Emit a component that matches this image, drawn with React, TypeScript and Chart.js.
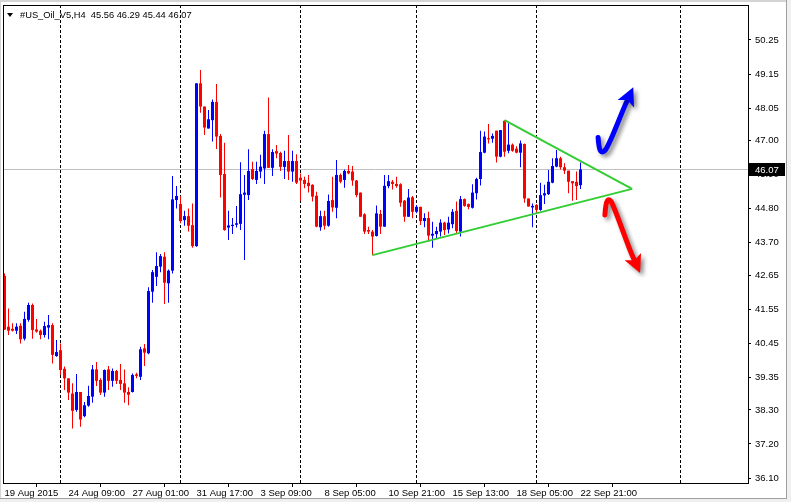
import React, { useEffect, useRef } from "react";
import { Chart, registerables } from "chart.js";

Chart.register(...registerables);

// ---- OHLC data (H4 bars, #US_Oil_V5) ----
const opens = [
  42.63, 40.99, 40.92, 40.86, 41.02, 40.60, 41.21, 41.69, 40.90, 40.86,
  40.72, 40.96, 41.04, 40.04, 40.23, 39.63, 39.32, 38.83, 38.30, 38.88,
  38.10, 38.44, 38.73, 39.61, 39.27, 38.86, 39.61, 39.24, 39.56, 39.27,
  39.16, 38.88, 38.88, 39.45, 39.37, 40.29, 40.13, 42.12, 42.60, 42.93,
  43.25, 42.39, 42.80, 45.08, 44.95, 44.43, 44.56, 44.27, 43.59, 48.85,
  48.10, 47.39, 47.66, 48.25, 47.15, 45.92, 44.19, 44.24, 44.28, 44.31,
  45.25, 45.24, 46.08, 45.73, 46.00, 46.10, 47.21, 46.12, 46.66, 46.60,
  46.15, 46.34, 46.00, 46.34, 45.80, 45.73, 45.64, 45.57, 45.22, 44.20,
  44.56, 44.25, 45.08, 44.83, 45.89, 45.73, 46.02, 46.00, 45.71, 45.32,
  44.62, 44.11, 44.06, 43.92, 44.63, 44.22, 45.53, 45.67, 45.60, 45.59,
  45.06, 44.54, 45.17, 44.70, 44.86, 44.40, 44.50, 43.93, 43.98, 44.06,
  44.35, 44.13, 44.30, 44.73, 44.06, 45.11, 44.95, 44.83, 45.30, 45.76,
  46.61, 47.08, 47.06, 47.32, 46.48, 47.64, 46.67, 46.87, 46.74, 46.61,
  46.89, 45.13, 44.84, 44.92, 44.76, 45.23, 45.27, 45.64, 46.16, 46.43,
  46.14, 46.03, 45.69, 45.67, 45.56,
];
const highs = [
  42.71, 41.58, 41.10, 41.10, 41.10, 41.47, 41.76, 41.74, 41.24, 40.90,
  41.15, 41.37, 41.10, 40.56, 40.45, 39.70, 39.32, 39.16, 39.46, 38.88,
  38.56, 39.08, 39.75, 39.85, 39.32, 39.61, 39.72, 39.64, 39.59, 39.78,
  39.61, 39.03, 39.48, 39.50, 40.34, 40.43, 42.26, 42.82, 43.39, 43.34,
  43.39, 42.84, 45.86, 45.53, 45.21, 44.73, 44.81, 44.97, 48.85, 49.28,
  48.10, 47.99, 48.33, 48.83, 47.21, 46.93, 44.73, 44.50, 44.89, 46.30,
  45.89, 46.72, 46.32, 46.32, 46.54, 47.32, 48.39, 46.72, 46.86, 46.64,
  46.67, 47.18, 46.67, 46.56, 45.94, 45.83, 45.89, 45.59, 45.35, 44.73,
  44.73, 45.26, 45.83, 46.37, 45.94, 46.07, 46.21, 46.18, 45.73, 45.32,
  44.65, 44.22, 44.11, 44.90, 44.76, 45.89, 45.89, 45.73, 45.83, 45.62,
  45.08, 45.44, 45.21, 44.92, 44.86, 44.65, 44.70, 44.38, 44.22, 44.46,
  44.38, 44.54, 44.79, 45.03, 45.21, 45.13, 44.97, 45.59, 45.80, 47.32,
  47.29, 47.54, 47.23, 47.32, 47.34, 47.66, 47.56, 46.91, 46.82, 47.00,
  46.91, 45.13, 44.97, 44.95, 45.64, 45.57, 46.05, 46.43, 46.70, 46.48,
  46.27, 46.03, 45.69, 46.00, 46.29,
];
const lows = [
  40.88, 40.72, 40.83, 40.75, 40.45, 40.54, 41.15, 40.60, 40.79, 40.58,
  40.64, 40.58, 39.80, 40.02, 39.43, 38.94, 38.62, 37.70, 38.24, 37.76,
  38.06, 38.40, 38.53, 39.07, 38.78, 38.73, 38.94, 39.05, 39.14, 38.94,
  38.53, 38.45, 38.86, 39.32, 39.27, 39.72, 40.10, 41.76, 42.30, 42.75,
  41.72, 41.76, 42.71, 44.81, 44.33, 44.25, 44.06, 43.54, 43.57, 47.90,
  47.18, 47.39, 46.97, 46.73, 45.16, 44.09, 43.79, 43.98, 44.19, 44.11,
  43.14, 45.08, 45.73, 45.60, 45.78, 45.60, 46.12, 45.86, 46.43, 46.02,
  45.76, 45.73, 45.67, 45.60, 45.06, 45.46, 45.32, 45.03, 44.20, 44.09,
  44.13, 44.22, 44.70, 44.49, 45.62, 45.48, 45.91, 45.54, 45.17, 44.54,
  43.98, 43.98, 43.30, 43.90, 43.98, 44.22, 45.46, 45.42, 45.48, 44.86,
  44.38, 44.54, 44.49, 44.65, 44.27, 44.20, 43.73, 43.54, 43.84, 43.90,
  43.95, 44.00, 44.17, 44.00, 43.90, 44.86, 44.78, 44.81, 45.10, 45.55,
  46.59, 46.91, 46.93, 46.29, 46.46, 46.48, 46.59, 46.64, 46.59, 46.14,
  44.99, 44.87, 44.20, 44.63, 44.73, 44.95, 45.24, 45.62, 46.14, 46.07,
  45.92, 45.30, 45.06, 45.08, 45.44,
];
const closes = [
  40.90, 40.86, 40.86, 40.99, 40.58, 41.24, 41.69, 40.88, 40.83, 40.72,
  41.01, 41.04, 40.08, 40.17, 39.59, 39.32, 38.86, 38.27, 38.88, 37.99,
  38.45, 38.75, 39.61, 39.24, 38.86, 39.59, 39.24, 39.56, 39.24, 39.14,
  38.86, 38.79, 39.43, 39.40, 40.26, 40.15, 42.14, 42.75, 42.95, 43.27,
  42.41, 42.80, 45.10, 45.21, 44.40, 44.56, 44.25, 43.59, 48.85, 48.10,
  47.42, 47.69, 48.25, 47.13, 45.89, 44.11, 44.26, 44.28, 44.33, 45.27,
  45.32, 46.02, 45.76, 46.02, 46.16, 47.21, 46.12, 46.63, 46.58, 46.15,
  46.34, 46.00, 46.34, 45.64, 45.71, 45.60, 45.53, 45.19, 44.22, 44.56,
  44.25, 45.05, 44.84, 45.89, 45.67, 46.02, 45.94, 45.71, 45.24, 44.54,
  44.06, 44.06, 43.90, 44.65, 44.22, 45.54, 45.69, 45.60, 45.53, 44.99,
  44.54, 45.16, 44.70, 44.86, 44.40, 44.50, 43.93, 43.99, 44.08, 44.35,
  44.11, 44.35, 44.70, 44.08, 45.11, 44.89, 44.86, 45.32, 45.76, 46.63,
  47.13, 47.04, 47.15, 46.48, 47.34, 46.64, 46.87, 46.67, 46.61, 46.91,
  45.13, 44.87, 44.89, 44.76, 45.24, 45.30, 45.67, 46.18, 46.43, 46.14,
  46.03, 45.67, 45.62, 45.53, 46.07,
];

// ---- axes ----
const yTicks = [50.25, 49.15, 48.05, 47.0, 45.9, 44.8, 43.7, 42.65, 41.55, 40.45, 39.35, 38.3, 37.2, 36.1];
const xTickBars = [0, 16, 32, 48, 64, 80, 96, 112, 128, 144];
const xTickLabels = [
  "19 Aug 2015", "24 Aug 09:00", "27 Aug 01:00", "31 Aug 17:00", "3 Sep 09:00",
  "8 Sep 05:00", "10 Sep 21:00", "15 Sep 13:00", "18 Sep 05:00", "22 Sep 21:00",
];
const gridBars = [14, 44, 74, 103, 133, 169];
const bidPrice = 46.07;
const headerText = "#US_Oil_V5,H4  45.56 46.29 45.44 46.07";

// ---- drawn objects (bar index, price) ----
const lowerTrend = [{ x: 92, y: 43.3 }, { x: 156.9, y: 45.44 }];
const upperTrend = [{ x: 125, y: 47.66 }, { x: 156.9, y: 45.44 }];
const blueArrow = [
  { x: 148.4, y: 47.1 }, { x: 148.6, y: 46.72 }, { x: 149.5, y: 46.6 },
  { x: 150.8, y: 46.78 }, { x: 155.0, y: 48.1 }, { x: 157.2, y: 48.72 },
];
const redArrow = [
  { x: 150.1, y: 44.6 }, { x: 150.3, y: 44.97 }, { x: 151.1, y: 45.13 },
  { x: 152.1, y: 44.95 }, { x: 156.4, y: 43.45 }, { x: 158.9, y: 42.72 },
];

const UP = "#0000ff";
const DOWN = "#ff0000";
const candleColors = closes.map((c, i) => (c >= opens[i] ? UP : DOWN));
const wickData = highs.map((h, i) => ({ x: i, y: [lows[i], h] }));
const bodyData = opens.map((o, i) => ({ x: i, y: [o, closes[i]] }));

const FONT = '"Liberation Sans", Arial, sans-serif';
const AXIS_FONT_SIZE = 9.5;

function drawArrow(ctx: CanvasRenderingContext2D, pts: { x: number; y: number }[], color: string) {
  const n = pts.length;
  const tip = pts[n - 1];
  const prev = pts[n - 2];
  const dx = tip.x - prev.x;
  const dy = tip.y - prev.y;
  const len = Math.hypot(dx, dy) || 1;
  const ux = dx / len;
  const uy = dy / len;
  const headLen = 18;
  const headW = 9;
  const bx = tip.x - ux * headLen;
  const by = tip.y - uy * headLen;
  const path = pts.slice(0, n - 1).concat([{ x: bx + ux * 3, y: by + uy * 3 }]);
  ctx.save();
  ctx.shadowColor = "rgba(0,0,0,0.45)";
  ctx.shadowBlur = 4;
  ctx.shadowOffsetX = 3;
  ctx.shadowOffsetY = 3;
  ctx.strokeStyle = color;
  ctx.fillStyle = color;
  ctx.lineWidth = 5;
  ctx.lineCap = "round";
  ctx.lineJoin = "round";
  ctx.beginPath();
  ctx.moveTo(path[0].x, path[0].y);
  for (let i = 1; i < path.length - 1; i++) {
    const mx = (path[i].x + path[i + 1].x) / 2;
    const my = (path[i].y + path[i + 1].y) / 2;
    ctx.quadraticCurveTo(path[i].x, path[i].y, mx, my);
  }
  ctx.lineTo(path[path.length - 1].x, path[path.length - 1].y);
  ctx.stroke();
  ctx.beginPath();
  ctx.moveTo(tip.x, tip.y);
  ctx.lineTo(bx - uy * headW, by + ux * headW);
  ctx.lineTo(bx + ux * 4, by + uy * 4);
  ctx.lineTo(bx + uy * headW, by - ux * headW);
  ctx.closePath();
  ctx.fill();
  ctx.restore();
}

const overlayPlugin = {
  id: "mt4Overlay",
  beforeDraw(chart: any) {
    const { ctx, width, height } = chart;
    ctx.save();
    ctx.fillStyle = "#ffffff";
    ctx.fillRect(0, 0, width, height);
    ctx.restore();
  },
  beforeDatasetsDraw(chart: any) {
    const { ctx, chartArea: a, scales } = chart;
    const xs = scales.x;
    const ys = scales.y;
    ctx.save();
    ctx.beginPath();
    ctx.rect(a.left, a.top, a.right - a.left, a.bottom - a.top);
    ctx.clip();
    ctx.strokeStyle = "#000000";
    ctx.lineWidth = 1;
    ctx.setLineDash([3, 2]);
    gridBars.forEach((b) => {
      const px = Math.floor(xs.getPixelForValue(b)) + 0.5;
      ctx.beginPath();
      ctx.moveTo(px, a.top);
      ctx.lineTo(px, a.bottom);
      ctx.stroke();
    });
    ctx.setLineDash([]);
    const py = Math.round(ys.getPixelForValue(bidPrice)) + 0.5;
    ctx.strokeStyle = "#c0c0c0";
    ctx.beginPath();
    ctx.moveTo(a.left, py);
    ctx.lineTo(a.right, py);
    ctx.stroke();
    ctx.restore();
  },
  afterDatasetsDraw(chart: any) {
    const { ctx, chartArea: a, scales } = chart;
    const xs = scales.x;
    const ys = scales.y;
    const toPx = (p: { x: number; y: number }) => ({ x: xs.getPixelForValue(p.x), y: ys.getPixelForValue(p.y) });
    drawArrow(ctx, blueArrow.map(toPx), UP);
    drawArrow(ctx, redArrow.map(toPx), DOWN);
    ctx.save();
    ctx.strokeStyle = "#000000";
    ctx.lineWidth = 1;
    ctx.strokeRect(a.left + 0.5, a.top + 0.5, a.right - a.left, a.bottom - a.top);
    ctx.restore();
  },
  afterDraw(chart: any) {
    const { ctx, chartArea: a, scales, width, height } = chart;
    const ys = scales.y;
    ctx.save();
    // bid price label on the axis
    const py = Math.round(ys.getPixelForValue(bidPrice));
    ctx.fillStyle = "#000000";
    ctx.fillRect(a.right + 1, py - 6, 36, 13);
    ctx.fillStyle = "#ffffff";
    ctx.font = `${AXIS_FONT_SIZE}px ${FONT}`;
    ctx.textBaseline = "middle";
    ctx.textAlign = "left";
    ctx.fillText(bidPrice.toFixed(2), a.right + 7, py + 1);
    // header
    ctx.fillStyle = "#000000";
    ctx.beginPath();
    ctx.moveTo(a.left + 4, 13);
    ctx.lineTo(a.left + 10, 13);
    ctx.lineTo(a.left + 7, 17);
    ctx.closePath();
    ctx.fill();
    ctx.font = `9.3px ${FONT}`;
    ctx.fillText(headerText, a.left + 17, 15);
    // window frame
    ctx.fillStyle = "#d4d4d4";
    ctx.fillRect(0, 0, width, 2);
    ctx.fillRect(0, 0, 1, height);
    ctx.fillStyle = "#f0f0f0";
    ctx.fillRect(width - 4, 0, 4, height);
    ctx.fillRect(0, height - 3, width, 3);
    ctx.fillStyle = "#a0a0a0";
    ctx.fillRect(width - 5, 0, 1, height - 3);
    ctx.fillRect(0, height - 4, width - 4, 1);
    ctx.restore();
  },
};

export default function App() {
  const canvasRef = useRef<HTMLCanvasElement | null>(null);

  useEffect(() => {
    const canvas = canvasRef.current;
    if (!canvas) return;
    const chart = new Chart(canvas, {
      type: "bar",
      data: {
        datasets: [
          {
            type: "line",
            data: lowerTrend,
            borderColor: "#32cd32",
            borderWidth: 2,
            pointRadius: 0,
            order: 0,
          } as any,
          {
            type: "line",
            data: upperTrend,
            borderColor: "#32cd32",
            borderWidth: 2,
            pointRadius: 0,
            order: 0,
          } as any,
          {
            type: "bar",
            data: bodyData,
            backgroundColor: candleColors,
            barThickness: 3,
            minBarLength: 1,
            grouped: false,
            borderWidth: 0,
            inflateAmount: 0,
            order: 1,
          } as any,
          {
            type: "bar",
            data: wickData,
            backgroundColor: candleColors,
            barThickness: 1,
            grouped: false,
            borderWidth: 0,
            inflateAmount: 0,
            order: 2,
          } as any,
        ],
      },
      options: {
        animation: false,
        responsive: false,
        devicePixelRatio: 1,
        layout: { padding: { left: 3, top: 5, right: 0, bottom: 0 } },
        plugins: { legend: { display: false }, tooltip: { enabled: false } },
        scales: {
          x: {
            type: "linear",
            min: -0.375,
            max: 185.875,
            offset: false,
            position: "bottom",
            afterBuildTicks: (s: any) => {
              s.ticks = xTickBars.map((v) => ({ value: v }));
            },
            afterFit: (s: any) => {
              s.height = 19;
              s.paddingLeft = 0;
              s.paddingRight = 0;
              s.paddingTop = 0;
              s.paddingBottom = 0;
            },
            grid: { display: true, drawOnChartArea: false, drawTicks: true, tickLength: 4, color: "#000000" },
            border: { display: true, color: "#000000" },
            ticks: {
              autoSkip: false,
              maxRotation: 0,
              minRotation: 0,
              align: "start",
              padding: 1,
              color: "#000000",
              font: { family: FONT, size: AXIS_FONT_SIZE },
              callback: (_v: any, i: number) => xTickLabels[i],
            },
          },
          y: {
            type: "linear",
            position: "right",
            min: 35.94,
            max: 51.38,
            afterBuildTicks: (s: any) => {
              s.ticks = yTicks.map((v) => ({ value: v }));
            },
            afterFit: (s: any) => {
              s.width = 43;
              s.paddingTop = 0;
              s.paddingBottom = 0;
              s.paddingLeft = 0;
              s.paddingRight = 0;
            },
            grid: { display: true, drawOnChartArea: false, drawTicks: true, tickLength: 3, color: "#000000" },
            border: { display: true, color: "#000000" },
            ticks: {
              padding: 4,
              color: "#000000",
              font: { family: FONT, size: AXIS_FONT_SIZE },
              callback: (v: any) => Number(v).toFixed(2),
            },
          },
        },
      } as any,
      plugins: [overlayPlugin],
    });
    return () => chart.destroy();
  }, []);

  return (
    <div style={{ position: "absolute", left: 0, top: 0, width: 791, height: 502, background: "#ffffff" }}>
      <canvas ref={canvasRef} width={791} height={502} style={{ display: "block", width: 791, height: 502 }} />
    </div>
  );
}
